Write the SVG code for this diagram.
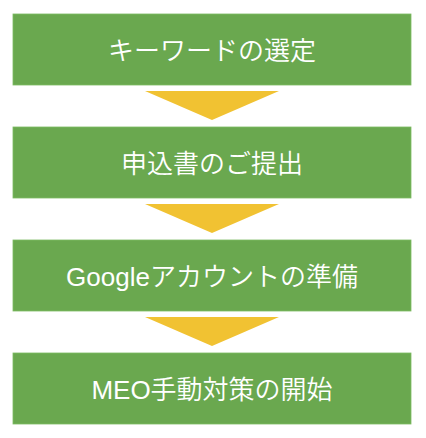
<svg xmlns="http://www.w3.org/2000/svg" width="426" height="438" viewBox="0 0 426 438">
<style>
.box{fill:#6aa84f;stroke:#7dbb63;stroke-width:0.8}
.lbl{fill:#ffffff;font-family:"Liberation Sans","Noto Sans CJK JP",sans-serif;font-size:26px;font-weight:350;text-anchor:middle;dominant-baseline:central}
.arr{fill:#f1c232}
</style>
<rect width="426" height="438" fill="#ffffff"/>
<g id="connectors">
<polygon class="arr" points="145,91 279,91 212,120"/>
<polygon class="arr" points="145,204 279,204 212,233"/>
<polygon class="arr" points="145,317 279,317 212,346"/>
</g>
<g id="node1"><rect class="box" x="13" y="14" width="398" height="71"/><text class="lbl" x="212" y="51">キーワードの選定</text></g>
<g id="node2"><rect class="box" x="13" y="127" width="398" height="71"/><text class="lbl" x="212" y="164">申込書のご提出</text></g>
<g id="node3"><rect class="box" x="13" y="240" width="398" height="71"/><text class="lbl" x="212" y="277">Googleアカウントの準備</text></g>
<g id="node4"><rect class="box" x="13" y="353" width="398" height="71"/><text class="lbl" x="212" y="390">MEO手動対策の開始</text></g>
</svg>
